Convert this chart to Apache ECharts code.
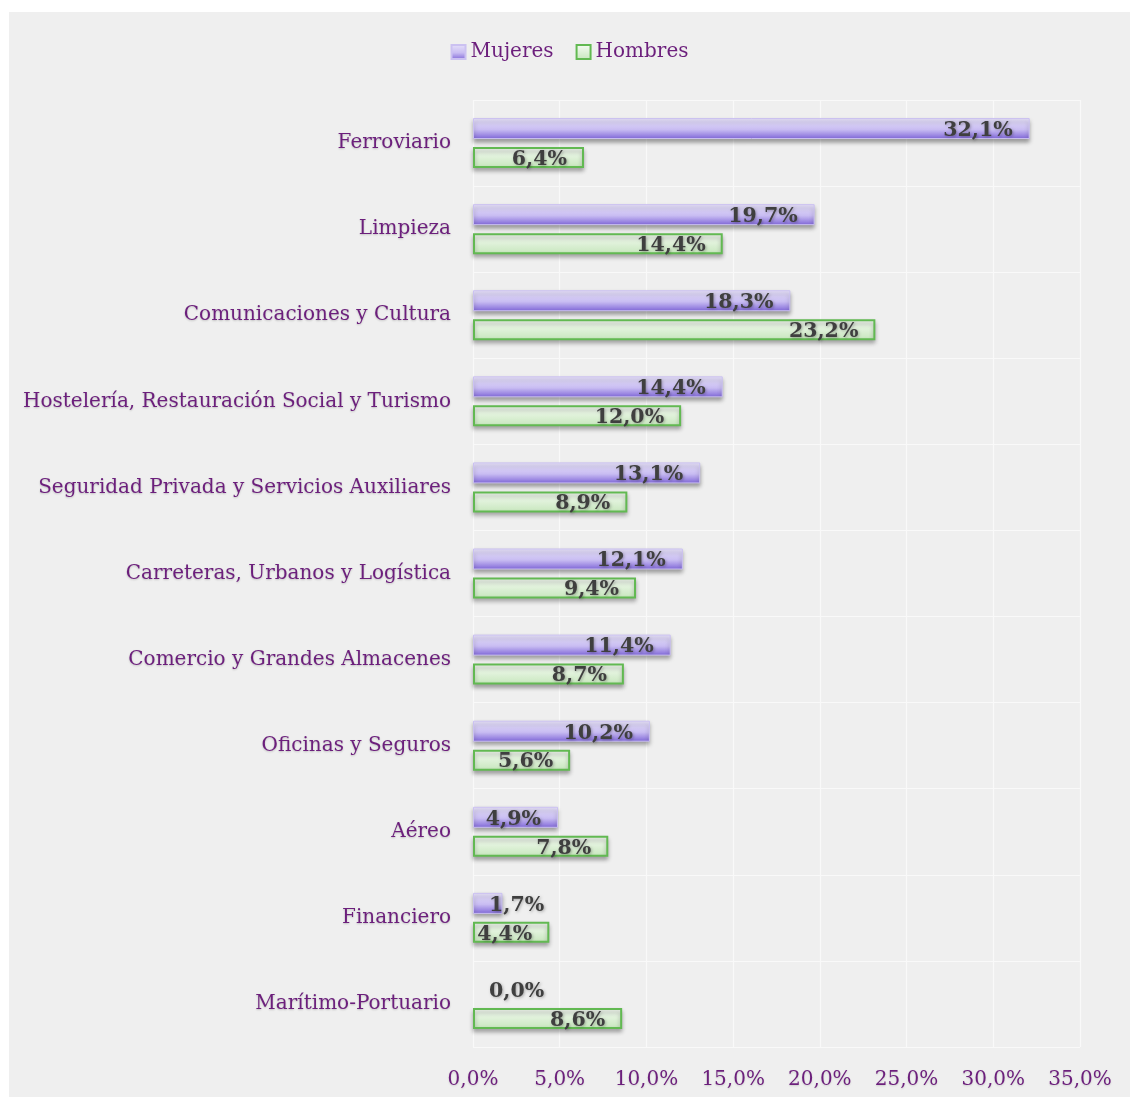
<!DOCTYPE html>
<html>
<head>
<meta charset="utf-8">
<script src="https://cdn.jsdelivr.net/npm/echarts@6/dist/echarts.min.js"></script>
<style>
  html, body { margin: 0; padding: 0; background: #ffffff; }
  #chart { position: absolute; left: 9px; top: 12px; width: 1121px; height: 1085px; background: #efefef; }
</style>
</head>
<body>
<div id="chart"></div>
<script>
var categories = ['Ferroviario', 'Limpieza', 'Comunicaciones y Cultura', 'Hostelería, Restauración Social y Turismo',
  'Seguridad Privada y Servicios Auxiliares', 'Carreteras, Urbanos y Logística', 'Comercio y Grandes Almacenes',
  'Oficinas y Seguros', 'Aéreo', 'Financiero', 'Marítimo-Portuario']
var mujeres = [32.1, 19.7, 18.3, 14.4, 13.1, 12.1, 11.4, 10.2, 4.9, 1.7, 0.0]
var hombres = [6.4, 14.4, 23.2, 12.0, 8.9, 9.4, 8.7, 5.6, 7.8, 4.4, 8.6]

var fontFamily = '"DejaVu Serif", serif'
var purple = '#6c1f7c'

function fmt(v) {
  return v.toFixed(1).replace('.', ',') + '%'
}

// short bars get their label pushed off the start like Excel does
function withLabels(values) {
  return values.map(function (v) {
    var item = { value: v }
    if (v < 3) {
      item.label = { position: 'insideLeft', distance: 16 }
    }
    if (v === 0) {
      item.itemStyle = { borderWidth: 0, shadowBlur: 0, shadowOffsetY: 0 }
    }
    return item
  })
}

var labelStyle = {
  show: true,
  position: 'insideRight',
  distance: 17,
  offset: [0, 2],
  formatter: function (p) { return fmt(p.value) },
  fontFamily: fontFamily,
  fontWeight: 'bold',
  fontSize: 20.5,
  color: '#3f3f3f',
  textShadowColor: 'rgba(0,0,0,0.3)',
  textShadowBlur: 3,
  textShadowOffsetX: 1,
  textShadowOffsetY: 1
}

var chart = echarts.init(document.getElementById('chart'))
chart.setOption({
  backgroundColor: '#efefef',
  animation: false,
  legend: {
    top: 25,
    left: 'center',
    icon: 'rect',
    itemWidth: 14,
    itemHeight: 14,
    itemGap: 22,
    textStyle: { fontFamily: fontFamily, fontSize: 20, color: purple }
  },
  grid: {
    left: 464,
    right: 50,
    top: 88,
    bottom: 50
  },
  xAxis: {
    type: 'value',
    min: 0,
    max: 35,
    interval: 5,
    axisLine: { show: false },
    axisTick: { show: false },
    splitLine: { show: true, lineStyle: { color: '#f9f9f9', width: 1.2 } },
    axisLabel: {
      formatter: function (v) { return fmt(v) },
      fontFamily: fontFamily,
      fontSize: 20,
      color: purple,
      margin: 23,
      textShadowColor: 'rgba(0,0,0,0.15)',
      textShadowBlur: 2,
      textShadowOffsetY: 1
    }
  },
  yAxis: {
    type: 'category',
    inverse: true,
    data: categories,
    axisLine: { show: false },
    axisTick: { show: false },
    splitLine: { show: true, lineStyle: { color: '#f9f9f9', width: 1.2 } },
    axisLabel: {
      fontFamily: fontFamily,
      fontSize: 20,
      color: purple,
      margin: 22,
      textShadowColor: 'rgba(0,0,0,0.2)',
      textShadowBlur: 2,
      textShadowOffsetY: 1
    }
  },
  series: [
    {
      name: 'Mujeres',
      type: 'bar',
      barWidth: 21,
      barGap: '38%',
      data: withLabels(mujeres),
      label: labelStyle,
      itemStyle: {
        color: new echarts.graphic.LinearGradient(0, 0, 0, 1, [
          { offset: 0, color: '#e8e3fa' },
          { offset: 0.55, color: '#c8bcf2' },
          { offset: 1, color: '#7f66d8' }
        ]),
        borderColor: '#cbc1f1',
        borderWidth: 1,
        shadowColor: 'rgba(0,0,0,0.35)',
        shadowBlur: 4,
        shadowOffsetY: 3
      }
    },
    {
      name: 'Hombres',
      type: 'bar',
      barWidth: 21,
      data: withLabels(hombres),
      label: labelStyle,
      itemStyle: {
        color: new echarts.graphic.LinearGradient(0, 0, 0, 1, [
          { offset: 0, color: '#f7fcf5' },
          { offset: 1, color: '#c6e6bc' }
        ]),
        borderColor: '#62b952',
        borderWidth: 2,
        shadowColor: 'rgba(0,0,0,0.3)',
        shadowBlur: 4,
        shadowOffsetY: 3
      }
    }
  ]
})
</script>
</body>
</html>
